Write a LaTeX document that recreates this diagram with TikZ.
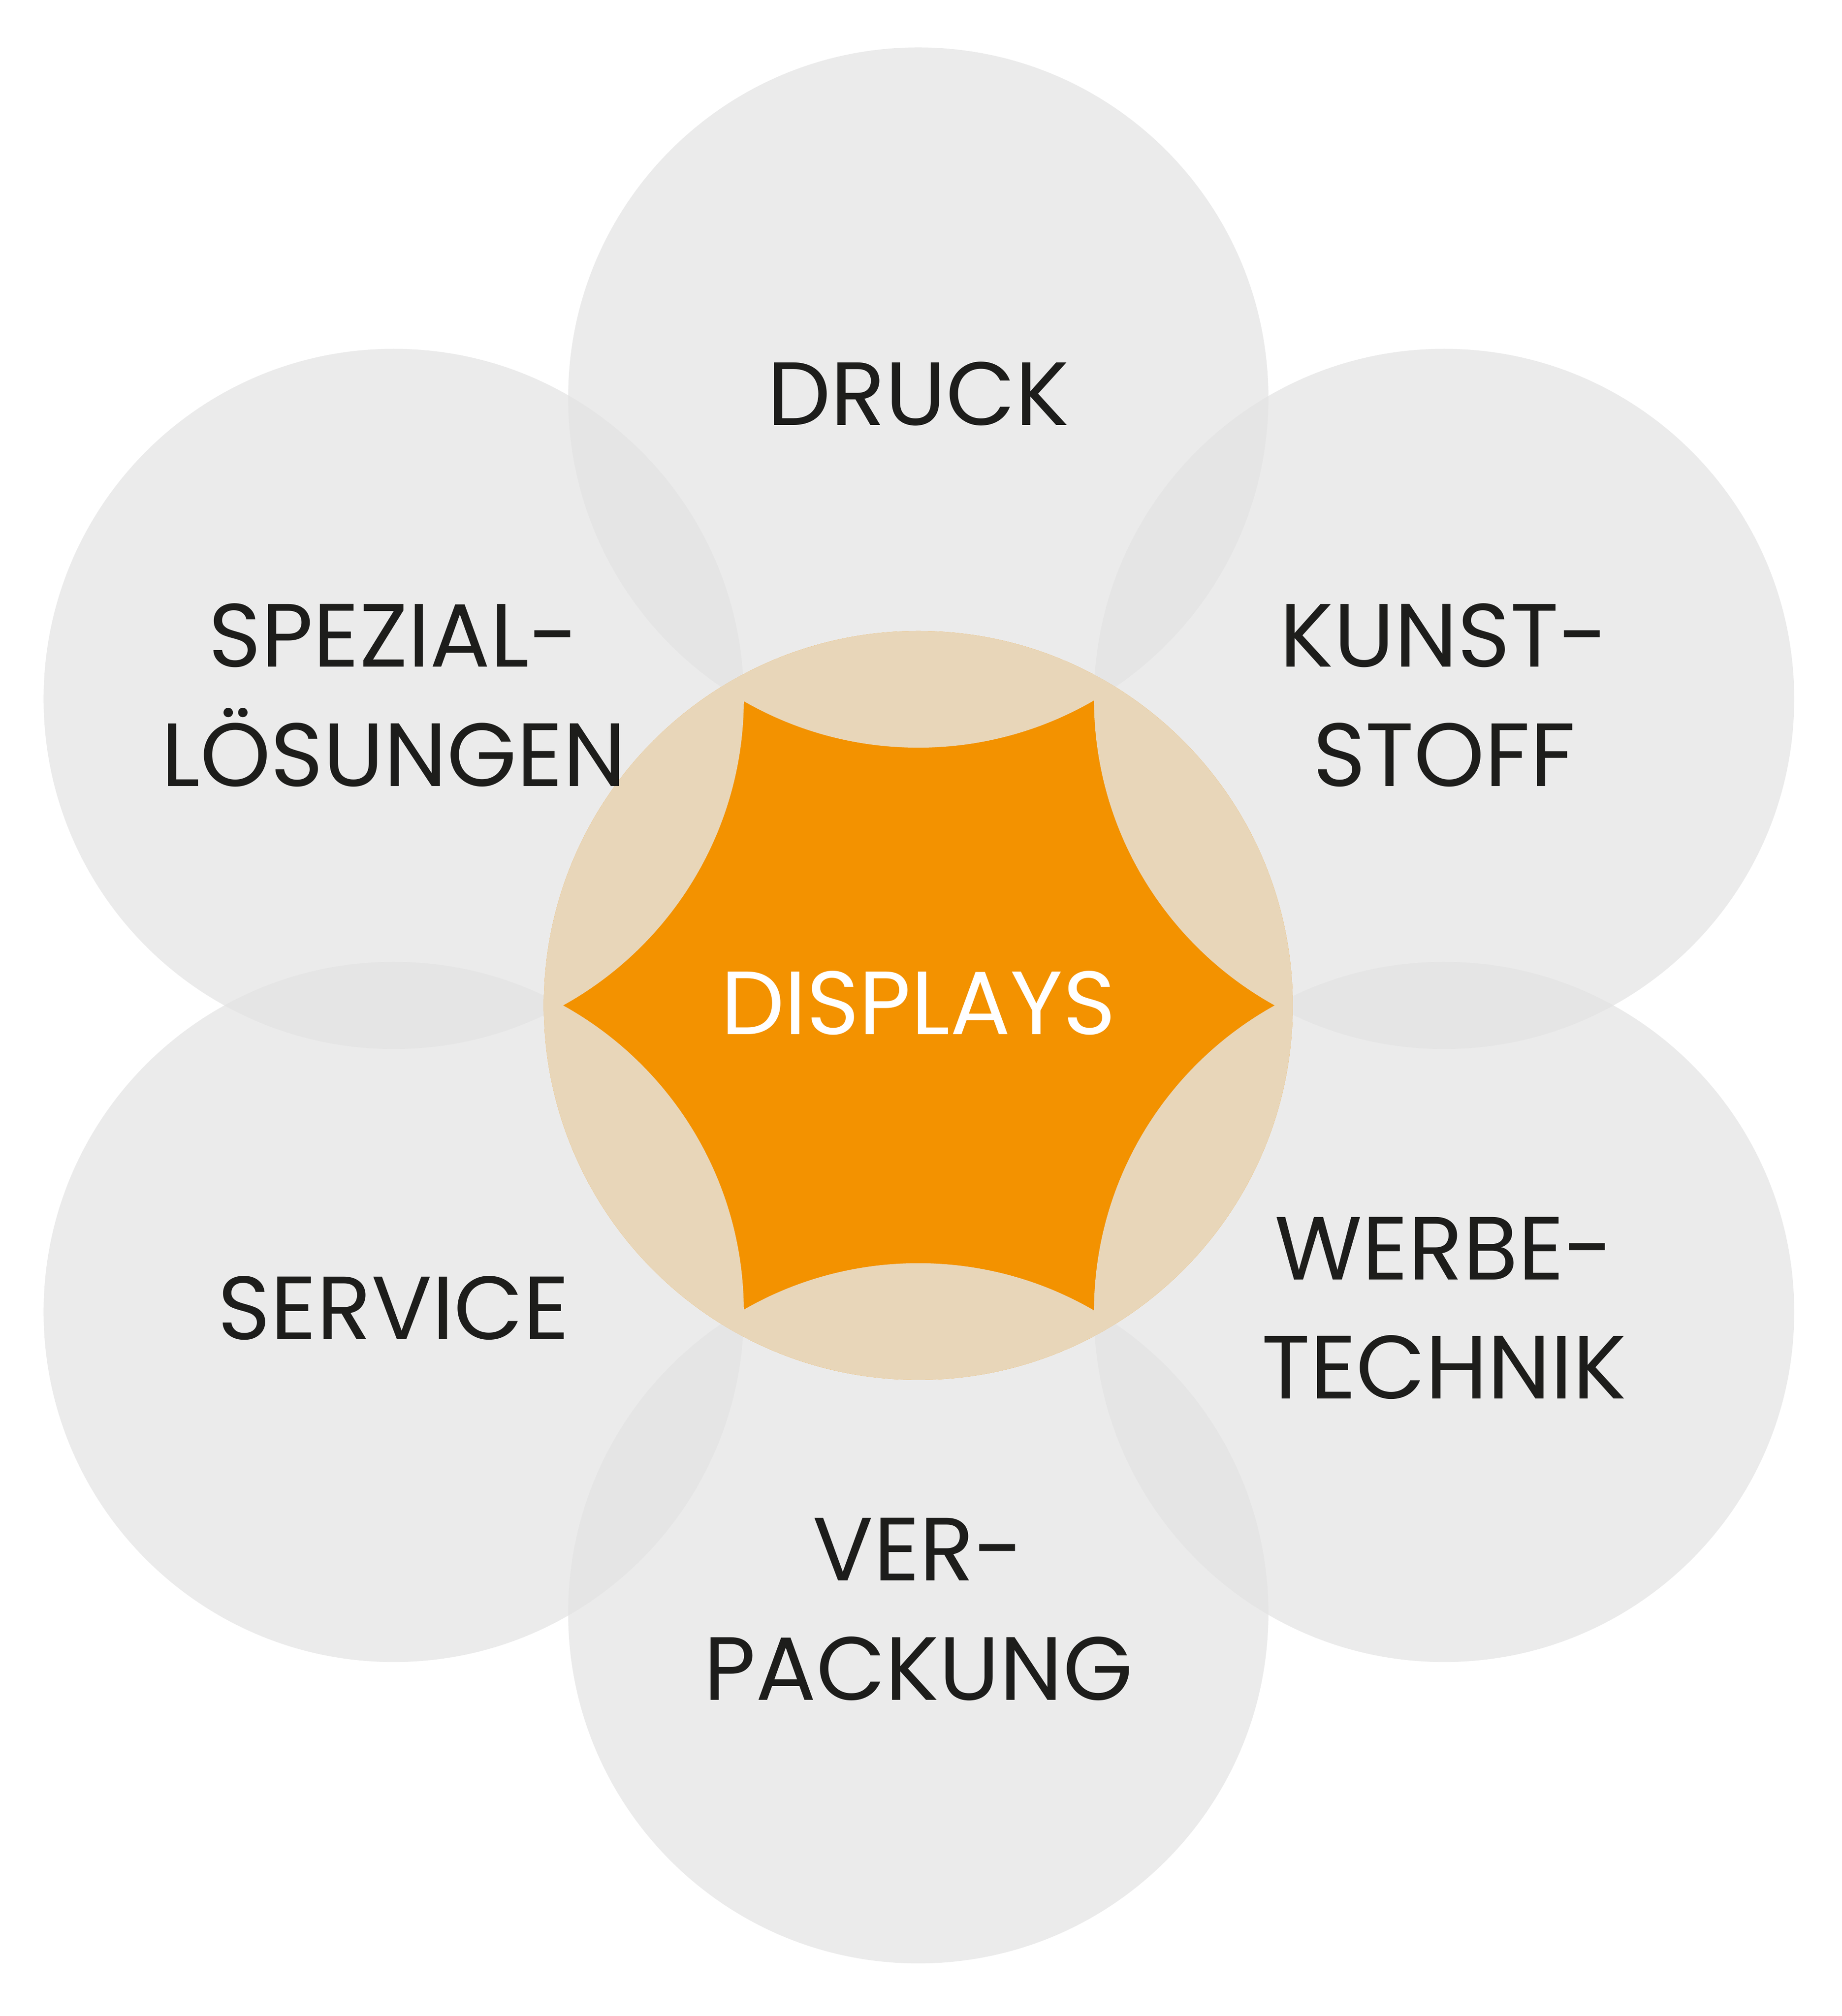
\documentclass[tikz,border=0pt]{standalone}
\usepackage{fontspec}
\setmainfont{Poppins}
\definecolor{gc}{HTML}{EBEBEB}
\definecolor{gd}{HTML}{E5E5E5}
\definecolor{bei}{HTML}{E8D6B9}
\definecolor{ora}{HTML}{F39200}
\definecolor{txt}{HTML}{1D1D1B}
\begin{document}
\begin{tikzpicture}[x=1pt,y=1pt,
  lab/.style={text=txt,font=\fontsize{70}{93}\selectfont,align=center,inner sep=0pt}]
\useasboundingbox (0,0) rectangle (1436,1572);
\def\R{273}
\coordinate (C) at (716,788);
\coordinate (T) at (716,1262);
\coordinate (B) at (716,314);
\coordinate (UL) at (307,1027);
\coordinate (UR) at (1126,1027);
\coordinate (LL) at (307,549);
\coordinate (LR) at (1126,549);
\foreach \p in {T,B,UL,UR,LL,LR} \fill[gc] (\p) circle (\R);
\foreach \a/\b in {T/UL,T/UR,UR/LR,LR/B,B/LL,LL/UL}{
  \begin{scope}\clip (\a) circle (\R); \fill[gd] (\b) circle (\R);\end{scope}}
\fill[ora] (C) circle (292);
\begin{scope}\clip (C) circle (292);
\foreach \p in {T,B,UL,UR,LL,LR} \fill[bei] (\p) circle (\R);
\end{scope}
\node[lab] (dr) at (716,1265) {DRUCK};
\node[lab] (sp) at (307,1030) {SPEZIAL-\\LÖSUNGEN};
\node[lab] (ku) at (1126,1030) {KUNST-\\STOFF};
\node[lab,text=white] (di) at (716,790) {DISPLAYS};
\node[lab] (se) at (307,552) {SERVICE};
\node[lab] (we) at (1126,552) {WERBE-\\TECHNIK};
\node[lab] (ve) at (716,317) {VER-\\PACKUNG};
\end{tikzpicture}
\end{document}
